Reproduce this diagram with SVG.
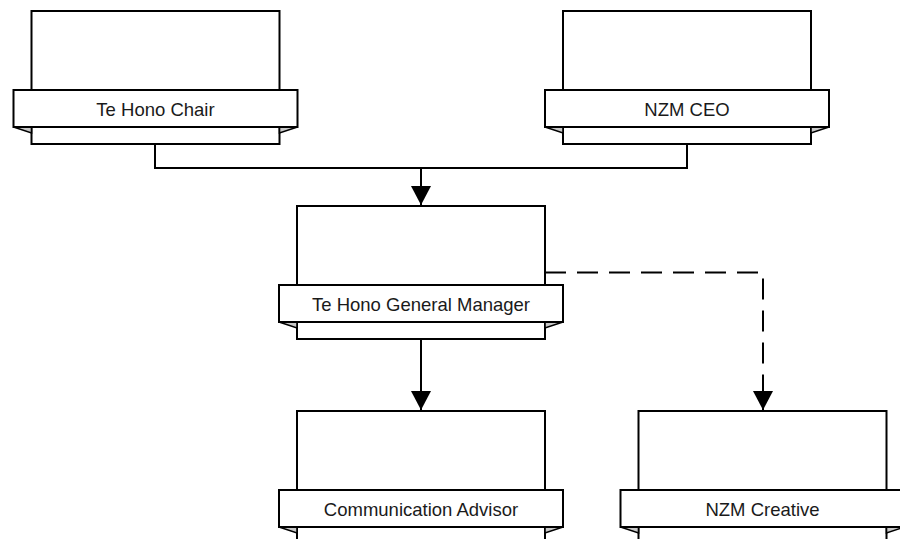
<svg xmlns="http://www.w3.org/2000/svg" width="900" height="539" viewBox="0 0 900 539">
<defs>
<style>
.box{fill:#fff;stroke:#000;stroke-width:2}
.fold{fill:#c8c8c8;stroke:#000;stroke-width:1.6;stroke-linejoin:miter}
.rib{fill:#fff;stroke:#000;stroke-width:2}
.lbl{font-family:"Liberation Sans",Arial,sans-serif;font-size:18.5px;fill:#1a1a1a;text-anchor:middle}
.con{fill:none;stroke:#000;stroke-width:2}
.dash{stroke-dasharray:21 11}
</style>
<marker id="arr" markerUnits="userSpaceOnUse" markerWidth="20" markerHeight="20" viewBox="0 0 18 18" refX="17" refY="9" orient="auto">
<path d="M0,0 L17,9 L0,18 Z" fill="#000"/>
</marker>
<g id="card">
<rect class="box" x="0" y="0" width="248" height="133"/>
<polygon class="fold" points="-18,116 0,122 0,116"/>
<polygon class="fold" points="266,116 248,122 248,116"/>
<rect class="rib" x="-18" y="79" width="284" height="37"/>
</g>
</defs>
<rect width="900" height="539" fill="#fff"/>
<g id="connectors">
<path class="con" d="M155,144 V168 H687 V144"/>
<path class="con" d="M421,168 V205" marker-end="url(#arr)"/>
<path class="con" d="M421,338 V410" marker-end="url(#arr)"/>
<path class="con dash" d="M545,272.5 H763 V410" marker-end="url(#arr)"/>
</g>
<g id="te-hono-chair" transform="translate(31.5,11)">
<use href="#card"/>
<text class="lbl" x="124" y="104.5">Te Hono Chair</text>
</g>
<g id="nzm-ceo" transform="translate(563,11)">
<use href="#card"/>
<text class="lbl" x="124" y="104.5">NZM CEO</text>
</g>
<g id="te-hono-general-manager" transform="translate(297,206)">
<use href="#card"/>
<text class="lbl" x="124" y="104.5">Te Hono General Manager</text>
</g>
<g id="communication-advisor" transform="translate(297,411)">
<use href="#card"/>
<text class="lbl" x="124" y="104.5">Communication Advisor</text>
</g>
<g id="nzm-creative" transform="translate(638.5,411)">
<use href="#card"/>
<text class="lbl" x="124" y="104.5">NZM Creative</text>
</g>
</svg>
